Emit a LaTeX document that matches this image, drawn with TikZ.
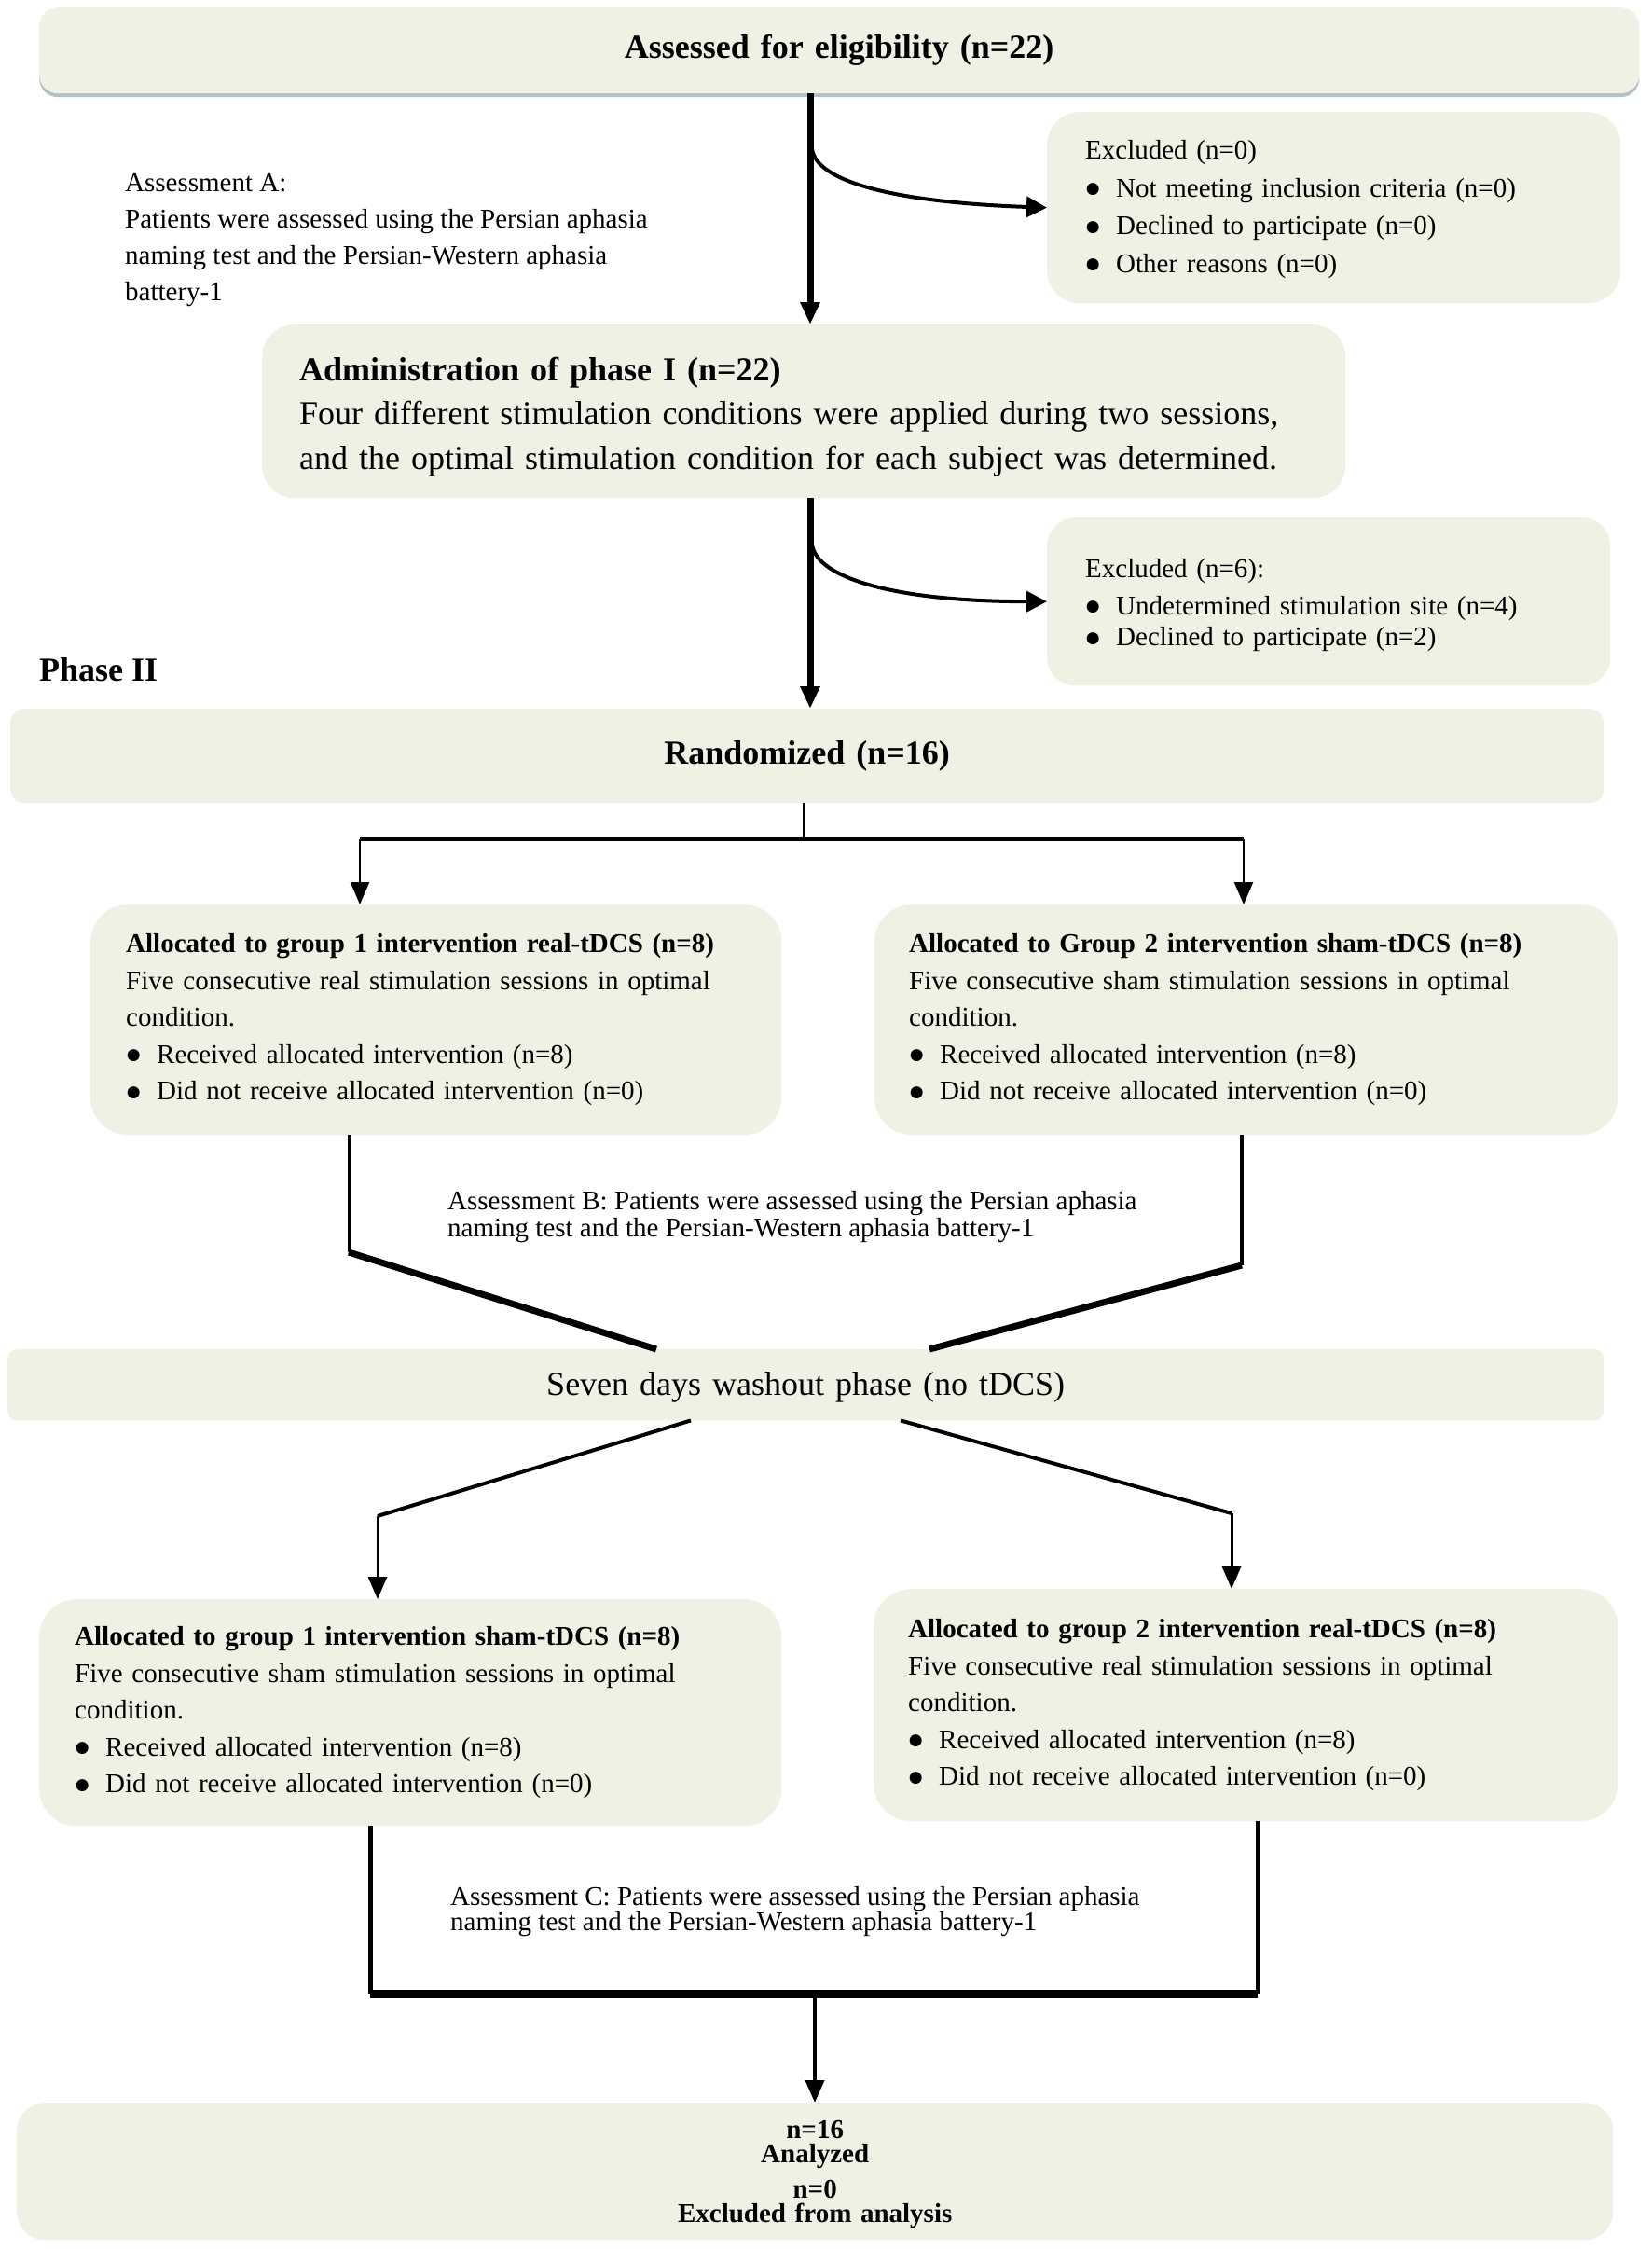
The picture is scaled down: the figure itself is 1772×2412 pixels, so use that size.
\documentclass[tikz,border=0pt]{standalone}
\usepackage{fontspec}
\setmainfont{Liberation Serif}
\newfontfamily\symfont{DejaVu Sans}
\usetikzlibrary{arrows.meta,shadows,calc}
\definecolor{boxfill}{RGB}{238,241,228}
\definecolor{shadowc}{RGB}{160,178,185}
\newcommand{\bitem}{\hspace*{3pt}\makebox[10pt][c]{\raisebox{3.5pt}{\symfont\fontsize{17}{17}\selectfont ●}}\hspace{20pt}}
\begin{document}
\begin{tikzpicture}[x=1pt,y=-1pt,
  box/.style={fill=boxfill, draw=none, anchor=north west, inner ysep=0pt, align=left},
  body/.style={font=\fontsize{29}{39.5}\selectfont},
  big/.style={font=\fontsize{36}{47.5}\selectfont},
  tip/.style={-{Triangle[length=24pt,width=20pt]}},
  ctip/.style={-{Triangle[length=22pt,width=22pt]}},
  freetext/.style={anchor=west, align=left, inner sep=0pt}]
\useasboundingbox[fill=white] (0,0) rectangle (1772,2412);

% boxes
\node[box, rounded corners=20pt, minimum height=92pt, text width=1716pt, inner xsep=0pt, align=center,
      drop shadow={shadow xshift=0pt, shadow yshift=-4pt, fill=shadowc, opacity=0.8},
      font=\bfseries\fontsize{36}{44}\selectfont] (top) at (42,8) {Assessed for eligibility (n=22)};

\node[box, rounded corners=35pt, minimum height=205pt, text width=533pt, inner xsep=41pt, font=\fontsize{29}{40.5}\selectfont] (ex1) at (1123,120)
  {\rule{0pt}{24pt}Excluded (n=0)\\ \bitem Not meeting inclusion criteria (n=0)\\ \bitem Declined to participate (n=0)\\ \bitem Other reasons (n=0)};

\node[box, rounded corners=35pt, minimum height=186pt, text width=1082pt, inner xsep=40pt, big] (ph1) at (281,348)
  {\rule{0pt}{37pt}\textbf{Administration of phase I (n=22)}\\ Four different stimulation conditions were applied during two sessions,\\ and the optimal stimulation condition for each subject was determined.};

\node[box, rounded corners=30pt, minimum height=180pt, text width=522pt, inner xsep=41pt, font=\fontsize{29}{33.5}\selectfont] (ex2) at (1123,555)
  {\rule{0pt}{28pt}Excluded (n=6):\\[6pt] \bitem Undetermined stimulation site (n=4)\\ \bitem Declined to participate (n=2)};

\node[box, rounded corners=15pt, minimum height=101pt, text width=1709pt, inner xsep=0pt, align=center,
      font=\bfseries\fontsize{36}{44}\selectfont] (rand) at (11,760) {Randomized (n=16)};

\node[box, rounded corners=40pt, minimum height=247pt, text width=665pt, inner xsep=38pt, body] (g1a) at (97,970)
  {\textbf{Allocated to group 1 intervention real-tDCS (n=8)}\\ Five consecutive real stimulation sessions in optimal\\ condition.\\ \bitem Received allocated intervention (n=8)\\ \bitem Did not receive allocated intervention (n=0)};

\node[box, rounded corners=40pt, minimum height=247pt, text width=723pt, inner xsep=37pt, body] (g2a) at (938,970)
  {\textbf{Allocated to Group 2 intervention sham-tDCS (n=8)}\\ Five consecutive sham stimulation sessions in optimal\\ condition.\\ \bitem Received allocated intervention (n=8)\\ \bitem Did not receive allocated intervention (n=0)};

\node[box, rounded corners=10pt, minimum height=76pt, text width=1712pt, inner xsep=0pt, align=center, big] (wash) at (8,1447)
  {\rule{0pt}{30pt}Seven days washout phase (no tDCS)};

\node[box, rounded corners=40pt, minimum height=243pt, text width=720pt, inner xsep=38pt, body] (g1b) at (42,1715)
  {\textbf{Allocated to group 1 intervention sham-tDCS (n=8)}\\ Five consecutive sham stimulation sessions in optimal\\ condition.\\ \bitem Received allocated intervention (n=8)\\ \bitem Did not receive allocated intervention (n=0)};

\node[box, rounded corners=40pt, minimum height=249pt, text width=724pt, inner xsep=37pt, body] (g2b) at (937,1704)
  {\textbf{Allocated to group 2 intervention real-tDCS (n=8)}\\ Five consecutive real stimulation sessions in optimal\\ condition.\\ \bitem Received allocated intervention (n=8)\\ \bitem Did not receive allocated intervention (n=0)};

\node[box, rounded corners=30pt, minimum height=147pt, text width=1712pt, inner xsep=0pt, align=center,
      font=\bfseries\fontsize{29}{26}\selectfont] (ana) at (18,2255)
  {\rule{0pt}{25pt}n=16\\ Analyzed\\[12pt] n=0\\ Excluded from analysis};

% free texts
\node[freetext, font=\fontsize{29}{39}\selectfont] (asA) at (134,258)
  {Assessment A:\\ Patients were assessed using the Persian aphasia\\ naming test and the Persian-Western aphasia\\ battery-1};
\node[freetext, font=\fontsize{29}{29}\selectfont] (asB) at (480,1305)
  {Assessment B: Patients were assessed using the Persian aphasia\\ naming test and the Persian-Western aphasia battery-1};
\node[freetext, font=\fontsize{29}{26}\selectfont] (asC) at (483,2050)
  {Assessment C: Patients were assessed using the Persian aphasia\\ naming test and the Persian-Western aphasia battery-1};
\node[freetext, font=\bfseries\fontsize{36}{44}\selectfont] (ph2) at (42,718) {Phase II};

% helper coordinates
\coordinate (sp) at (869,0);
\coordinate (c1) at (871,160);
\coordinate (c2) at (871,584);
\coordinate (spl) at (862,900);
\coordinate (xl) at (386,0);
\coordinate (xr) at (1334,0);
\coordinate (d1) at (374,1343);
\coordinate (d2) at (1332,1357);
\coordinate (e1) at (704,0);
\coordinate (e2) at (997,0);
\coordinate (w1) at (741,0);
\coordinate (w2) at (966,0);
\coordinate (f1) at (405,1626);
\coordinate (f2) at (1321,1623);
\coordinate (b1) at (397,2138);
\coordinate (b2) at (1349,2138);
\coordinate (bm) at (874,2138);

% connectors
\draw[line width=7pt, tip] (top.south -| sp) -- (ph1.north -| sp);
\draw[line width=4pt, ctip] (c1) .. controls (876,195) and (960,217) .. (ex1.west);
\draw[line width=7pt, tip] (ph1.south -| sp) -- (rand.north -| sp);
\draw[line width=4pt, ctip] (c2) .. controls (876,620) and (960,645) .. (ex2.west);

\draw[line width=3pt] (rand.south -| spl) -- (spl);
\draw[line width=4.5pt] (spl -| xl) -- (spl -| xr);
\draw[line width=2.5pt, tip] (spl -| xl) -- (g1a.north -| xl);
\draw[line width=2.5pt, tip] (spl -| xr) -- (g2a.north -| xr);

\draw[line width=3pt] (g1a.south -| d1) -- (d1);
\draw[line width=7pt] (d1) -- (wash.north -| e1);
\draw[line width=4pt] (g2a.south -| d2) -- (d2);
\draw[line width=7pt] (d2) -- (wash.north -| e2);

\draw[line width=4pt] (wash.south -| w1) -- (f1);
\draw[line width=3pt, tip] (f1) -- (g1b.north -| f1);
\draw[line width=4pt] (wash.south -| w2) -- (f2);
\draw[line width=3pt, tip] (f2) -- (g2b.north -| f2);

\draw[line width=5pt] (g1b.south -| b1) -- (b1);
\draw[line width=5pt] (g2b.south -| b2) -- (b2);
\draw[line width=9pt] (b1) -- (b2);
\draw[line width=4pt, tip] (bm) -- (ana.north -| bm);
\end{tikzpicture}
\end{document}
